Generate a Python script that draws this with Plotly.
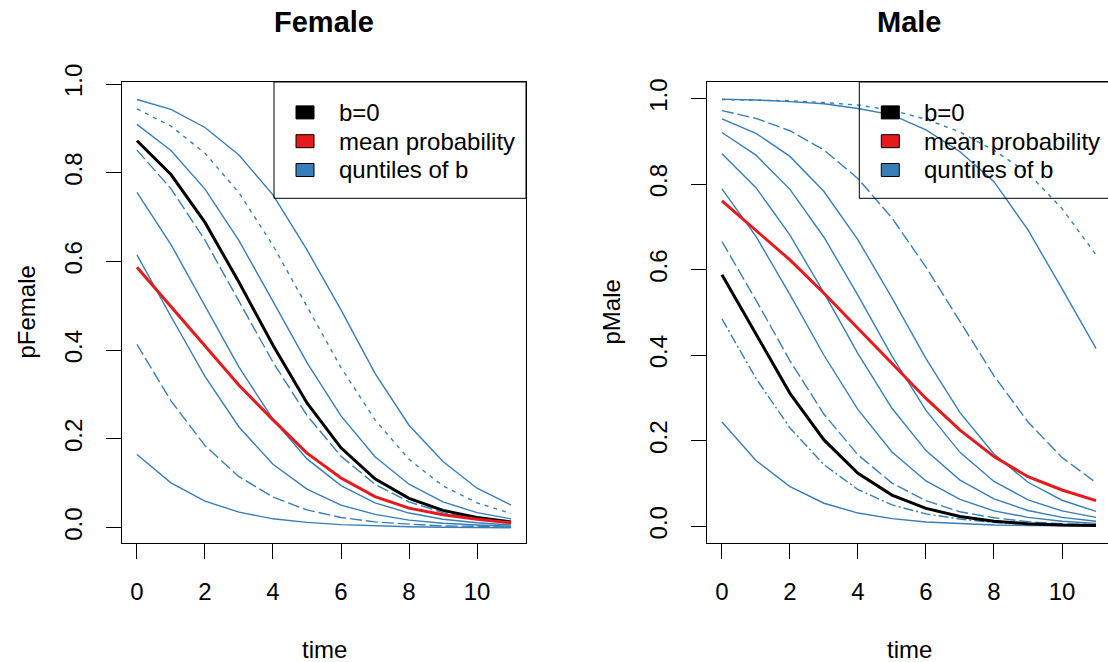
import plotly.graph_objects as go

# ---------------- data ----------------
time = list(range(12))

# Female panel: quantile curves of b (top to bottom at time 0)
female_q1 = [0.965, 0.943, 0.902, 0.840, 0.750, 0.626, 0.491, 0.348, 0.231, 0.149, 0.089, 0.051]
female_q2 = [0.944, 0.905, 0.844, 0.755, 0.636, 0.499, 0.361, 0.243, 0.154, 0.094, 0.056, 0.032]
female_q3 = [0.909, 0.850, 0.763, 0.647, 0.510, 0.372, 0.252, 0.160, 0.098, 0.058, 0.034, 0.020]
female_q4 = [0.851, 0.764, 0.648, 0.511, 0.373, 0.253, 0.161, 0.098, 0.058, 0.034, 0.020, 0.011]
female_q5 = [0.756, 0.638, 0.500, 0.362, 0.244, 0.155, 0.095, 0.056, 0.033, 0.019, 0.011, 0.006]
female_q6 = [0.615, 0.476, 0.341, 0.227, 0.143, 0.087, 0.051, 0.030, 0.017, 0.010, 0.006, 0.003]
female_q7 = [0.413, 0.286, 0.185, 0.115, 0.069, 0.040, 0.023, 0.013, 0.008, 0.004, 0.003, 0.001]
female_q8 = [0.165, 0.101, 0.060, 0.035, 0.020, 0.012, 0.007, 0.004, 0.002, 0.001, 0.001, 0.000]
female_b0 = [0.872, 0.796, 0.688, 0.553, 0.411, 0.281, 0.180, 0.110, 0.066, 0.039, 0.023, 0.013]
female_mean = [0.587, 0.498, 0.408, 0.321, 0.243, 0.168, 0.112, 0.070, 0.044, 0.029, 0.019, 0.011]

# Male panel
male_q1 = [0.999, 0.997, 0.993, 0.988, 0.977, 0.962, 0.927, 0.876, 0.806, 0.693, 0.556, 0.416]
male_q2 = [0.998, 0.997, 0.995, 0.991, 0.985, 0.973, 0.952, 0.922, 0.879, 0.826, 0.743, 0.635]
male_q3 = [0.972, 0.954, 0.925, 0.880, 0.813, 0.721, 0.606, 0.478, 0.352, 0.244, 0.161, 0.102]
male_q4 = [0.953, 0.919, 0.865, 0.783, 0.670, 0.534, 0.392, 0.266, 0.169, 0.103, 0.061, 0.035]
male_q5 = [0.921, 0.868, 0.788, 0.676, 0.540, 0.398, 0.271, 0.173, 0.105, 0.062, 0.036, 0.021]
male_q6 = [0.871, 0.792, 0.681, 0.546, 0.404, 0.276, 0.177, 0.108, 0.064, 0.037, 0.021, 0.012]
male_q7 = [0.789, 0.678, 0.542, 0.400, 0.273, 0.174, 0.106, 0.063, 0.036, 0.021, 0.012, 0.007]
male_q8 = [0.666, 0.529, 0.387, 0.262, 0.167, 0.101, 0.060, 0.034, 0.020, 0.011, 0.006, 0.004]
male_q9 = [0.485, 0.346, 0.230, 0.144, 0.086, 0.050, 0.029, 0.017, 0.009, 0.005, 0.003, 0.002]
male_q10 = [0.244, 0.154, 0.093, 0.054, 0.031, 0.018, 0.010, 0.006, 0.003, 0.002, 0.001, 0.001]
male_b0 = [0.588, 0.451, 0.311, 0.202, 0.124, 0.073, 0.042, 0.023, 0.012, 0.006, 0.003, 0.002]
male_mean = [0.761, 0.693, 0.623, 0.545, 0.463, 0.381, 0.299, 0.225, 0.163, 0.116, 0.085, 0.060]

x_ticks = [0, 2, 4, 6, 8, 10]
y_ticks = [0.0, 0.2, 0.4, 0.6, 0.8, 1.0]
legend_labels = ["b=0", "mean probability", "quntiles of b"]

# ---------------- styles ----------------
BLUE = "#377EB8"
RED = "#E41A1C"
BLACK = "#000000"
FONT = "Liberation Sans, Arial, Helvetica, sans-serif"
SHORT = "4px,5px"
LONG = "12px,4px"
DOTDASH = "10px,3px,2px,3px"

female_curves = [female_q1, female_q2, female_q3, female_q4, female_q5, female_q6, female_q7, female_q8]
female_dash = ["solid", SHORT, "solid", LONG, "solid", "solid", LONG, "solid"]
male_curves = [male_q1, male_q2, male_q3, male_q4, male_q5, male_q6, male_q7, male_q8, male_q9, male_q10]
male_dash = ["solid", SHORT, LONG, "solid", "solid", "solid", "solid", LONG, DOTDASH, "solid"]

W, H = 1108, 662


def py(p):
    return (H - p) / H


def pxx(p):
    return p / W


fig = go.Figure()

for vals, d in zip(female_curves, female_dash):
    fig.add_trace(go.Scatter(x=time, y=vals, mode="lines", xaxis="x", yaxis="y",
                             line=dict(color=BLUE, width=1.4, dash=d),
                             showlegend=False, hoverinfo="skip"))
fig.add_trace(go.Scatter(x=time, y=female_b0, mode="lines", xaxis="x", yaxis="y",
                         line=dict(color=BLACK, width=3), showlegend=False, hoverinfo="skip"))
fig.add_trace(go.Scatter(x=time, y=female_mean, mode="lines", xaxis="x", yaxis="y",
                         line=dict(color=RED, width=3), showlegend=False, hoverinfo="skip"))

for vals, d in zip(male_curves, male_dash):
    fig.add_trace(go.Scatter(x=time, y=vals, mode="lines", xaxis="x2", yaxis="y2",
                             line=dict(color=BLUE, width=1.4, dash=d),
                             showlegend=False, hoverinfo="skip"))
fig.add_trace(go.Scatter(x=time, y=male_b0, mode="lines", xaxis="x2", yaxis="y2",
                         line=dict(color=BLACK, width=3), showlegend=False, hoverinfo="skip"))
fig.add_trace(go.Scatter(x=time, y=male_mean, mode="lines", xaxis="x2", yaxis="y2",
                         line=dict(color=RED, width=3), showlegend=False, hoverinfo="skip"))

common = dict(showline=True, linecolor="black", linewidth=1, ticks="outside", ticklen=15,
              tickwidth=1, tickcolor="black", showgrid=False, zeroline=False, automargin=False,
              tickfont=dict(family=FONT, size=24, color="black"))

ydom = [py(543), py(82)]

fig.update_layout(
    width=W, height=H, autosize=False,
    margin=dict(l=0, r=0, t=0, b=0, pad=0, autoexpand=False),
    paper_bgcolor="white", plot_bgcolor="white", showlegend=False,
    xaxis=dict(domain=[pxx(122), pxx(526)], range=[-0.44, 11.44], tickvals=x_ticks,
               mirror=True, anchor="y", ticklabelstandoff=12, **common),
    yaxis=dict(domain=ydom, range=[-0.0345, 1.0045], tickvals=y_ticks, tickformat=".1f",
               tickangle=-90, mirror=True, anchor="x", ticklabelstandoff=14, **common),
    xaxis2=dict(domain=[pxx(707), 1.0], range=[-0.44, (W - 722) / 34.0], tickvals=x_ticks,
                mirror=True, anchor="y2", ticklabelstandoff=12, **common),
    yaxis2=dict(domain=ydom, range=[-0.039, 1.039], tickvals=y_ticks, tickformat=".1f",
                tickangle=-90, mirror=False, anchor="x2", ticklabelstandoff=14, **common),
)

annotations = []
shapes = []
panels = [("Female", "pFemale", 122, 526, 26), ("Male", "pMale", 707, 1111, 611)]
for title, ylab, left, right, ylab_x in panels:
    cx = (left + right) / 2
    annotations.append(dict(text="<b>%s</b>" % title, x=pxx(cx), y=py(22), xref="paper", yref="paper",
                            xanchor="center", yanchor="middle", showarrow=False,
                            font=dict(family=FONT, size=29, color="black")))
    annotations.append(dict(text="time", x=pxx(cx), y=py(649), xref="paper", yref="paper",
                            xanchor="center", yanchor="middle", showarrow=False,
                            font=dict(family=FONT, size=24, color="black")))
    annotations.append(dict(text=ylab, x=pxx(ylab_x), y=py(312.5), xref="paper", yref="paper",
                            xanchor="center", yanchor="middle", showarrow=False, textangle=-90,
                            font=dict(family=FONT, size=24, color="black")))

# legends (R style boxed legend)
legend_colors = [BLACK, RED, BLUE]
for lx, rx in [(274, 526), (859.3, 1111)]:
    shapes.append(dict(type="rect", xref="paper", yref="paper",
                       x0=pxx(lx), x1=min(pxx(rx), 1.0005), y0=py(198.3), y1=py(82),
                       line=dict(color="black", width=1), fillcolor="rgba(0,0,0,0)", layer="above"))
    for i, (lab, col) in enumerate(zip(legend_labels, legend_colors)):
        cy = 112.4 + i * 28.8
        shapes.append(dict(type="rect", xref="paper", yref="paper",
                           x0=pxx(lx + 22), x1=pxx(lx + 40), y0=py(cy + 6.5), y1=py(cy - 6.5),
                           line=dict(color="black", width=1), fillcolor=col, layer="above"))
        annotations.append(dict(text=lab, x=pxx(lx + 62.5), y=py(cy), xref="paper", yref="paper",
                                xanchor="left", yanchor="middle", showarrow=False,
                                font=dict(family=FONT, size=24, color="black")))

fig.update_layout(annotations=annotations, shapes=shapes)
fig.write_html("out.html")
